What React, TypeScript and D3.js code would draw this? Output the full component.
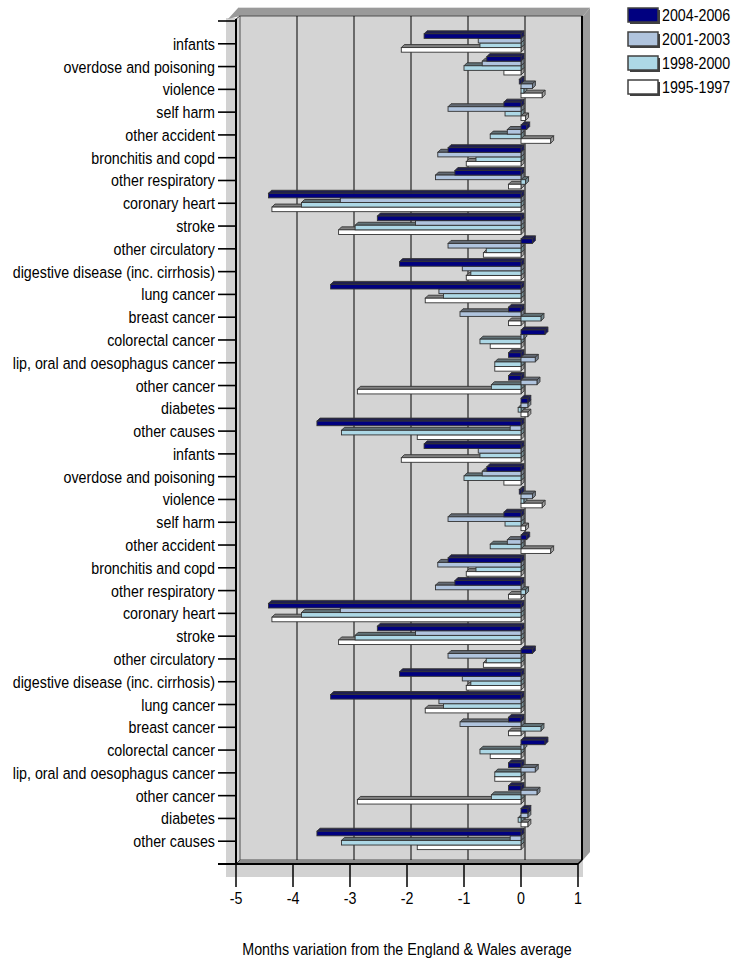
import React from "react";
import * as d3 from "d3";

// Causes of death, listed top to bottom (the list is shown twice)
const causes = [
  "infants",
  "overdose and poisoning",
  "violence",
  "self harm",
  "other accident",
  "bronchitis and copd",
  "other respiratory",
  "coronary heart",
  "stroke",
  "other circulatory",
  "digestive disease (inc. cirrhosis)",
  "lung cancer",
  "breast cancer",
  "colorectal cancer",
  "lip, oral and oesophagus cancer",
  "other cancer",
  "diabetes",
  "other causes",
];

const seriesNames = ["2004-2006", "2001-2003", "1998-2000", "1995-1997"];

// Months variation from the England & Wales average, per period
const v2004 = [-1.7, -0.6, -0.03, -0.3, 0.1, -1.28, -1.16, -4.43, -2.52, 0.2, -2.13, -3.34, -0.22, 0.42, -0.22, -0.22, 0.12, -3.58];
const v2001 = [-0.75, -0.68, 0.2, -1.28, -0.24, -1.46, -1.5, -3.17, -1.85, -1.28, -1.03, -1.44, -1.07, 0.05, 0.25, 0.28, 0.12, -0.19];
const v1998 = [-0.72, -1.0, 0.05, -0.28, -0.54, -0.79, 0.08, -3.85, -2.91, -0.61, -0.88, -1.36, 0.35, -0.72, -0.46, -0.52, -0.05, -3.15];
const v1995 = [-2.1, -0.3, 0.37, 0.08, 0.52, -0.96, -0.22, -4.37, -3.2, -0.66, -0.96, -1.68, -0.22, -0.54, -0.46, -2.87, 0.12, -1.82];

const xTickValues = [-5, -4, -3, -2, -1, 0, 1];

const seriesColors = ["#000080", "#b0c4de", "#add8e6", "#ffffff"];

const FONT = "'Liberation Sans', Arial, sans-serif";
const FS = 17;
const SX = 0.84;

export default function App() {
  const width = 735;
  const height = 961;

  const seriesValues = [v2004, v2001, v1998, v1995];
  const rows = [...causes, ...causes];
  const rowValues = rows.map((_, i) =>
    seriesValues.map((s) => s[i % causes.length])
  );

  // front plane of the 3D plot
  const x = d3.scaleLinear().domain([-5, 1]).range([236, 578]);
  const y = d3.scaleLinear().domain([0, 37]).range([21, 864]);

  // wall depth offset
  const wdx = 4;
  const wdy = 4;
  // bar depth offset
  const bdx = 3;
  const bdy = 3;
  const barH = 4.6;

  const topColor = seriesColors.map((c) => d3.interpolateRgb(c, "#333333")(0.62));
  const sideColor = seriesColors.map((c) => d3.interpolateRgb(c, "#333333")(0.45));

  const bars: React.ReactNode[] = [];
  for (let r = rows.length - 1; r >= 0; r--) {
    const yc = y(r + 1);
    const groupTop = yc - 10;
    for (let s = 3; s >= 0; s--) {
      const v = rowValues[r][s];
      const x0 = x(Math.min(v, 0));
      const x1 = x(Math.max(v, 0));
      const yt = groupTop + s * barH;
      const top = `${x0},${yt} ${x1},${yt} ${x1 + bdx},${yt - bdy} ${x0 + bdx},${yt - bdy}`;
      const side = `${x1},${yt} ${x1 + bdx},${yt - bdy} ${x1 + bdx},${yt + barH - bdy} ${x1},${yt + barH}`;
      bars.push(
        <g key={`b-${r}-${s}`}>
          <polygon points={top} fill={topColor[s]} stroke="#333" strokeWidth={0.9} />
          <polygon points={side} fill={sideColor[s]} stroke="#333" strokeWidth={0.9} />
          <rect
            x={x0}
            y={yt}
            width={Math.max(x1 - x0, 0.5)}
            height={barH}
            fill={seriesColors[s]}
            stroke="#333"
            strokeWidth={0.9}
          />
        </g>
      );
    }
  }

  const x0 = x.range()[0];
  const x1 = x.range()[1];
  const yTop = y(0);
  const yFloor = y(37);

  return (
    <svg width={width} height={height} style={{ display: "block", position: "absolute", left: 0, top: 0 }}>
      <rect width={width} height={height} fill="#ffffff" />

      {/* plot area background */}
      <rect x={226} y={yTop - 3} width={357} height={877 - yTop + 3} fill="#d2d2d2" />

      {/* wall thickness: top and right bands */}
      <polygon
        points={`${228},${yTop - 2} ${238},${8} ${590},${8} ${583},${yTop - wdy - 1} ${x0 + wdx},${yTop - wdy - 1}`}
        fill="#9a9a9a"
      />
      <line x1={238} y1={7.5} x2={590} y2={7.5} stroke="#dedede" strokeWidth={1} />
      <polygon points={`${583},${yTop - 5} ${590},${8} ${590},${852} ${583},${yFloor - wdy}`} fill="#9a9a9a" />

      {/* back wall */}
      <rect
        x={x0 + wdx}
        y={yTop - wdy - 1}
        width={x1 - x0}
        height={yFloor - yTop + 1}
        fill="#d4d4d4"
        stroke="#505050"
        strokeWidth={1}
      />
      {xTickValues.slice(1).map((t) => (
        <line
          key={`g${t}`}
          x1={x(t) + wdx}
          x2={x(t) + wdx}
          y1={yTop - wdy - 1}
          y2={yFloor - wdy}
          stroke="#000"
          strokeWidth={t === 1 ? 2 : 1}
        />
      ))}

      {/* floor */}
      <polygon
        points={`${x0},${yFloor} ${x1},${yFloor} ${x1 + wdx},${yFloor - wdy} ${x0 + wdx},${yFloor - wdy}`}
        fill="#8a8a8a"
      />
      <line x1={x0} y1={yFloor} x2={x0 + wdx} y2={yFloor - wdy} stroke="#404040" strokeWidth={1} />

      {/* bars */}
      {bars}

      {/* category axis */}
      <line x1={x0} y1={yTop - 2} x2={x0} y2={yFloor} stroke="#000" strokeWidth={2} />
      <line x1={x0} y1={yTop - 2} x2={x0 + wdx} y2={yTop - wdy - 1} stroke="#404040" strokeWidth={1} />
      {d3.range(0, 38).map((i) => (
        <line key={`yt${i}`} x1={218} x2={x0} y1={y(i)} y2={y(i)} stroke="#000" strokeWidth={1.6} />
      ))}
      {rows.map((name, i) => (
        <text
          key={`yl${i}`}
          transform={`translate(215,${y(i + 1) + 6}) scale(${SX},1)`}
          textAnchor="end"
          fontFamily={FONT}
          fontSize={FS}
          fill="#000"
        >
          {name}
        </text>
      ))}

      {/* value axis */}
      <line x1={218} y1={yFloor} x2={x1} y2={yFloor} stroke="#000" strokeWidth={2} />
      <line x1={x1} y1={yFloor} x2={x1 + wdx} y2={yFloor - wdy} stroke="#000" strokeWidth={1.5} />
      {xTickValues.map((t) => (
        <g key={`xt${t}`}>
          <line x1={x(t)} x2={x(t)} y1={yFloor} y2={887} stroke="#000" strokeWidth={1.5} />
          <text
            transform={`translate(${x(t)},904) scale(${SX},1)`}
            textAnchor="middle"
            fontFamily={FONT}
            fontSize={FS}
            fill="#000"
          >
            {t}
          </text>
        </g>
      ))}
      <text
        transform={`translate(407,955) scale(${SX},1)`}
        textAnchor="middle"
        fontFamily={FONT}
        fontSize={FS}
        fill="#000"
      >
        Months variation from the England &amp; Wales average
      </text>

      {/* legend */}
      {seriesNames.map((name, i) => {
        const ly = 8 + i * 24;
        return (
          <g key={`lg${i}`}>
            <rect x={630} y={ly + 2} width={30} height={14} fill="#404040" />
            <rect x={628} y={ly} width={30} height={14} fill={seriesColors[i]} stroke="#404040" strokeWidth={1.5} />
            <text
              transform={`translate(662,${ly + 13}) scale(${SX},1)`}
              fontFamily={FONT}
              fontSize={FS}
              fill="#000"
            >
              {name}
            </text>
          </g>
        );
      })}
    </svg>
  );
}
